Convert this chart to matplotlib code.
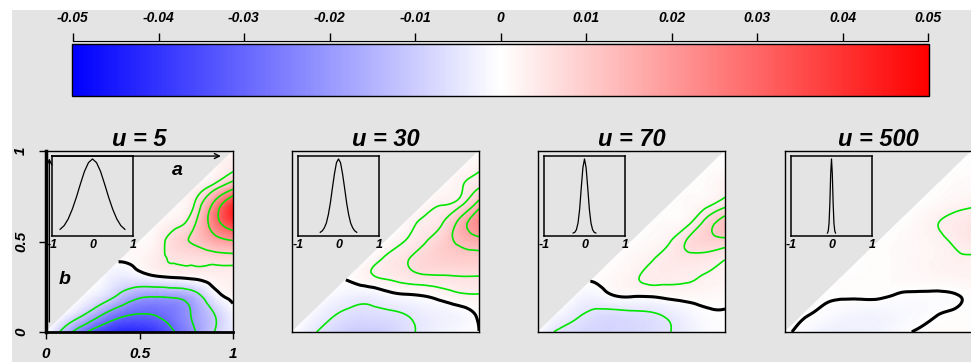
import numpy as np
import matplotlib
matplotlib.use("Agg")
import matplotlib.pyplot as plt
import matplotlib.tri as mtri
from matplotlib.cm import ScalarMappable
from matplotlib.colors import Normalize
from matplotlib.patches import Rectangle

# ---------------------------------------------------------------- data
CB_TICKS = [-0.05, -0.04, -0.03, -0.02, -0.01, 0, 0.01, 0.02, 0.03, 0.04, 0.05]
CB_LABELS = ["-0.05", "-0.04", "-0.03", "-0.02", "-0.01", "0",
             "0.01", "0.02", "0.03", "0.04", "0.05"]
TITLES = ["u = 5", "u = 30", "u = 70", "u = 500"]
AXIS_TICKS = [0, 0.5, 1]
AXIS_LABELS = ["0", "0.5", "1"]
INSET_TICKS = [-1, 0, 1]
INSET_LABELS = ["-1", "0", "1"]

# field on the lower triangle b <= a, grid step 0.1, values in units of 1e-3
# row k is b = k/10, its entries run over a = k/10 ... 1
FIELD_U5 = [
    [0, -14, -28, -37, -42, -42, -38, -29, -20, -10, -4],
    [-1, -9, -19, -27, -30, -29, -25, -18, -10, -2],
    [-1, -5, -12, -18, -19, -18, -13, -3, 1.5],
    [-1, -4, -3, -1, 0, 1, 2.5, 3],
    [0.5, 1.5, 4, 5.5, 6, 6.5, 7],
    [0.8, 3, 8, 11, 16, 19],
    [1.2, 3.5, 10, 25, 37],
    [1.5, 6, 23, 41],
    [1.5, 7.5, 17],
    [1.5, 4.5],
    [1.5],
]
FIELD_U30 = [
    [0, -4, -7, -9.5, -10, -9, -6.5, -4, -2, -1, 0],
    [-1, -4, -6, -6.5, -6, -5, -3.5, -2.5, -1.5, 0.6],
    [-1, -2.5, -3, -1.5, -0.5, 0, 1.2, 2.4, 2.7],
    [0.3, 2.1, 3.3, 4.2, 5.1, 5.4, 5.7, 5.7],
    [0.5, 3.6, 5.4, 7.8, 9, 9.6, 9.6],
    [0.5, 3, 5.4, 9, 13.2, 15.6],
    [0.8, 3.6, 5.7, 14.4, 22.8],
    [1, 3, 5.4, 15.6],
    [1, 2.7, 5.7],
    [1, 2.7],
    [1],
]
FIELD_U70 = [
    [0, -5.5, -7, -8, -8, -7.5, -6.5, -5.2, -3, -1, -0.3],
    [-1, -4, -6, -6.5, -6, -5.5, -4, -2, -0.5, -0.2],
    [-1, -2, -0.2, 0.3, 0.3, 0.9, 1.2, 1.2, 0.9],
    [0.3, 1.2, 2.4, 3.6, 3.6, 3.3, 2.7, 2.1],
    [0.3, 1.5, 2.7, 4.2, 4.8, 4.5, 3],
    [0.3, 1.2, 2.7, 6.4, 8.4, 8.4],
    [0.5, 0.9, 2.4, 7.6, 12.4],
    [0.5, 0.9, 2.4, 5.1],
    [0.5, 0.9, 2.4],
    [0.5, 0.9],
    [0.5],
]
FIELD_U500 = [
    [0.6, -1, -2.5, -2.8, -2.5, -2, -1, 0.2, 0.5, 0.6, 0.6],
    [0.3, -0.5, -1.5, -2, -2, -1.5, -1, -0.2, 0.3, 0.6],
    [0.2, 0.25, 0.35, 0.35, -0.2, -0.4, -0.4, -0.2, 0.6],
    [0.3, 0.5, 0.6, 0.9, 1.2, 1.5, 1.8, 2.1],
    [0.3, 0.6, 0.9, 1.5, 2.1, 2.7, 2.7],
    [0.3, 0.9, 1.5, 2.1, 3.3, 4.5],
    [0.3, 1.2, 2.7, 3.9, 4.8],
    [0.3, 1.2, 2.1, 2.7],
    [0.3, 0.9, 1.2],
    [0.3, 0.6],
    [0.3],
]
FIELDS = [FIELD_U5, FIELD_U30, FIELD_U70, FIELD_U500]

LEVELS_U5 = [-0.03, -0.02, -0.01, 0.005, 0.01, 0.02, 0.03]
LEVELS_U30 = [-0.005, 0.003, 0.006, 0.012, 0.018]
LEVELS_U70 = [-0.005, 0.003, 0.006, 0.01]
LEVELS_U500 = [0.003]
LEVELS = [LEVELS_U5, LEVELS_U30, LEVELS_U70, LEVELS_U500]

# kernel shapes drawn in the insets
KX_U5 = [-0.8, -0.7, -0.6, -0.5, -0.4, -0.3, -0.2, -0.1, 0,
         0.1, 0.2, 0.3, 0.4, 0.5, 0.6, 0.7, 0.8]
KY_U5 = [0.05, 0.10, 0.19, 0.32, 0.48, 0.66, 0.83, 0.95, 1.0,
         0.95, 0.83, 0.66, 0.48, 0.32, 0.19, 0.10, 0.05]
KX_U30 = [-0.45, -0.4, -0.35, -0.3, -0.25, -0.2, -0.15, -0.1, -0.05, 0,
          0.05, 0.1, 0.15, 0.2, 0.25, 0.3, 0.35, 0.4, 0.45]
KY_U30 = [0.01, 0.03, 0.07, 0.135, 0.25, 0.41, 0.61, 0.80, 0.95, 1.0,
          0.95, 0.80, 0.61, 0.41, 0.25, 0.135, 0.07, 0.03, 0.01]
KX_U70 = [-0.28, -0.24, -0.2, -0.16, -0.12, -0.08, -0.04, 0,
          0.04, 0.08, 0.12, 0.16, 0.2, 0.24, 0.28]
KY_U70 = [0.0, 0.01, 0.045, 0.135, 0.32, 0.61, 0.88, 1.0,
          0.88, 0.61, 0.32, 0.135, 0.045, 0.01, 0.0]
KX_U500 = [-0.1, -0.08, -0.06, -0.04, -0.02, 0, 0.02, 0.04, 0.06, 0.08, 0.1]
KY_U500 = [0.0, 0.03, 0.135, 0.41, 0.80, 1.0, 0.80, 0.41, 0.135, 0.03, 0.0]
KERNELS = [(KX_U5, KY_U5), (KX_U30, KY_U30), (KX_U70, KY_U70), (KX_U500, KY_U500)]

# ---------------------------------------------------------------- style
W, H = 971, 362
BG = "#e4e4e4"
GREEN = "#00e600"
plt.rcParams["font.family"] = ["Liberation Sans", "DejaVu Sans"]
plt.rcParams["font.weight"] = "bold"
plt.rcParams["font.style"] = "italic"
plt.rcParams["axes.titleweight"] = "bold"
plt.rcParams["contour.negative_linestyle"] = "solid"


def px_axes(fig, x0, y0, x1, y1):
    return fig.add_axes([x0 / W, 1 - y1 / H, (x1 - x0) / W, (y1 - y0) / H])


def refined(rows):
    idx, a, b, z = {}, [], [], []
    for k, row in enumerate(rows):
        for i, v in enumerate(row):
            idx[(k + i, k)] = len(a)
            a.append((k + i) / 10); b.append(k / 10); z.append(v * 1e-3)
    tris = []
    for k in range(10):
        for i in range(k, 10):
            tris.append([idx[(i, k)], idx[(i + 1, k)], idx[(i + 1, k + 1)]])
            if i >= k + 1:
                tris.append([idx[(i, k)], idx[(i + 1, k + 1)], idx[(i, k + 1)]])
    t = mtri.Triangulation(a, b, tris)
    return mtri.UniformTriRefiner(t).refine_field(np.array(z), subdiv=4)


fig = plt.figure(figsize=(W / 100, H / 100), dpi=100, facecolor="white")
fig.patches.append(Rectangle((12 / W, 0), 1, 1 - 10 / H, transform=fig.transFigure,
                             facecolor=BG, edgecolor="none", zorder=-10))

# ---- colour bar
norm = Normalize(-0.05, 0.05)
cax = px_axes(fig, 72, 44, 929, 96)
cb = fig.colorbar(ScalarMappable(norm=norm, cmap="bwr"), cax=cax, orientation="horizontal")
cb.set_ticks([])
cb.outline.set_linewidth(1)
tax = px_axes(fig, 73, 33, 928, 41)
tax.set_facecolor("none")
for s in ("top", "left", "right"):
    tax.spines[s].set_visible(False)
tax.set_xlim(-0.05, 0.05); tax.set_yticks([])
tax.set_xticks(CB_TICKS, CB_LABELS)
tax.tick_params(axis="x", bottom=True, top=False, labelbottom=False, labeltop=True,
                direction="in", length=5.8, width=1, pad=5.5, labelsize=10)

# ---- panels
lefts = [46, 292, 538, 785]
for p, x0 in enumerate(lefts):
    ax = px_axes(fig, x0, 151, x0 + 187, 332)
    ax.set_facecolor(BG)
    tf, zf = refined(FIELDS[p])
    ax.tripcolor(tf, zf, shading="gouraud", cmap="bwr", norm=norm)
    ax.tricontour(tf, zf, levels=LEVELS[p], colors=GREEN, linewidths=1.2)
    ax.tricontour(tf, zf, levels=[0], colors="k", linewidths=2.2)
    ax.set_xlim(0, 1); ax.set_ylim(0, 1)
    for s in ax.spines.values():
        s.set_linewidth(1)
    ax.set_title(TITLES[p], fontsize=17, pad=3.5)
    if p == 0:
        ax.set_xticks(AXIS_TICKS, AXIS_LABELS)
        ax.set_yticks(AXIS_TICKS, AXIS_LABELS)
        ax.tick_params(axis="x", length=5, width=1, labelsize=11, pad=6)
        ax.tick_params(axis="y", length=5, width=1, labelsize=11, pad=8)
        for lab in ax.get_yticklabels():
            lab.set_rotation(90); lab.set_va("center")
        ax.spines["left"].set_linewidth(2.5)
        ax.spines["bottom"].set_linewidth(2)
        arrow = dict(arrowstyle="->", lw=1, color="k", mutation_scale=9)
        ax.annotate("", xy=(0.95, 0.972), xytext=(0.016, 0.972), arrowprops=arrow)
        ax.annotate("", xy=(0.018, 0.975), xytext=(0.018, 0.04), arrowprops=arrow)
        ax.text(0.70, 0.89, "a", fontsize=14, ha="center", va="center")
        ax.text(0.10, 0.29, "b", fontsize=14, ha="center", va="center")
    else:
        ax.set_xticks([]); ax.set_yticks([])

    # inset with the kernel
    ins = px_axes(fig, x0 + 6, 156, x0 + 87, 236)
    ins.set_facecolor("none")
    kx, ky = KERNELS[p]
    ins.plot(kx, ky, color="k", lw=0.9)
    ins.set_xlim(-1, 1); ins.set_ylim(-0.04, 1.04)
    ins.set_xticks(INSET_TICKS, INSET_LABELS); ins.set_yticks([])
    ins.tick_params(axis="x", length=0, labelsize=9, pad=2)
    for s in ins.spines.values():
        s.set_linewidth(1.1)

fig.savefig("out.png", dpi=100, facecolor="white")
